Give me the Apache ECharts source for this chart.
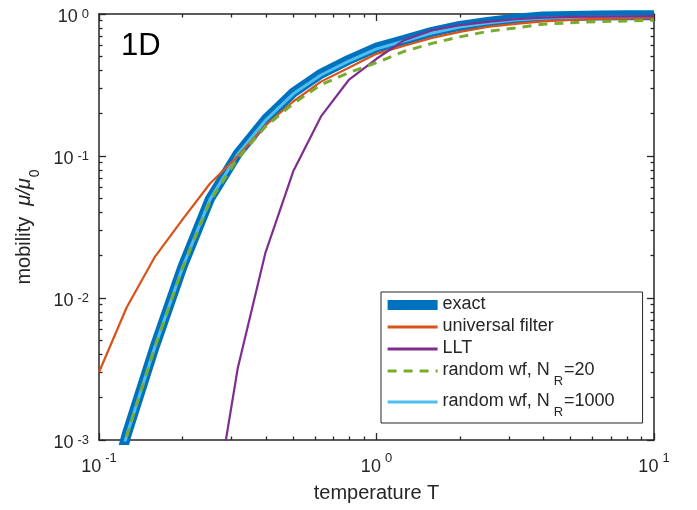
<!DOCTYPE html>
<html>
<head>
<meta charset="utf-8">
<script src="https://cdn.jsdelivr.net/npm/echarts@6/dist/echarts.min.js"></script>
<style>
html,body{margin:0;padding:0;background:#fff;}
#chart{width:697px;height:510px;}
</style>
</head>
<body>
<div id="chart"></div>
<script>
// temperatures (10 points per decade)
const temperature = [0.1, 0.1259, 0.1585, 0.1995, 0.2512, 0.3162, 0.3981, 0.5012, 0.6310, 0.7943, 1.0, 1.2589, 1.5849, 1.9953, 2.5119, 3.1623, 3.9811, 5.0119, 6.3096, 7.9433, 10.0];
// series values (mobility mu/mu0)
const exact = [2.0e-4, 1.1e-3, 4.5e-3, 0.0164, 0.050, 0.104, 0.181, 0.279, 0.38, 0.476, 0.58, 0.657, 0.748, 0.824, 0.879, 0.927, 0.96, 0.97, 0.975, 0.978, 0.98];
const universalFilter = [3.0e-3, 8.6e-3, 0.0193, 0.0355, 0.064, 0.0995, 0.164, 0.242, 0.334, 0.418, 0.524, 0.597, 0.679, 0.748, 0.811, 0.851, 0.886, 0.908, 0.923, 0.930, 0.937];
const llt = [null, null, null, null, 2.1e-4, 3.2e-3, 0.0209, 0.078, 0.19, 0.343, 0.484, 0.654, 0.768, 0.833, 0.879, 0.918, 0.942, 0.953, 0.958, 0.962, 0.965];
const randomWf20 = [1.8e-4, 1.07e-3, 4.4e-3, 0.016, 0.048, 0.0964, 0.161, 0.234, 0.318, 0.386, 0.454, 0.546, 0.621, 0.690, 0.754, 0.798, 0.847, 0.868, 0.885, 0.893, 0.904];
const randomWf1000 = [2.0e-4, 1.08e-3, 4.45e-3, 0.0162, 0.0495, 0.103, 0.178, 0.274, 0.372, 0.466, 0.568, 0.645, 0.735, 0.81, 0.865, 0.908, 0.935, 0.945, 0.95, 0.953, 0.955];
// tick values
const xMajorTicks = [0.1, 1, 10];
const xMinorTicks = [0.2, 0.3, 0.4, 0.5, 0.6, 0.7, 0.8, 0.9, 2, 3, 4, 5, 6, 7, 8, 9];
const yMajorTicks = [0.001, 0.01, 0.1, 1];
const yMinorTicks = [0.002, 0.003, 0.004, 0.005, 0.006, 0.007, 0.008, 0.009, 0.02, 0.03, 0.04, 0.05, 0.06, 0.07, 0.08, 0.09, 0.2, 0.3, 0.4, 0.5, 0.6, 0.7, 0.8, 0.9];

const AX = '#262626';
const FONT = '"Liberation Sans", Arial, Helvetica, sans-serif';

function pairs(vals) {
  const out = [];
  for (let i = 0; i < temperature.length; i++) {
    if (vals[i] != null) out.push([temperature[i], vals[i]]);
  }
  return out;
}
function expLabel(v) {
  const e = Math.round(Math.log10(v));
  return '{b|10}{s|' + (e < 0 ? '-' + (-e) : e) + '}';
}

const xRich = {
  b: {fontSize: 18, lineHeight: 24, color: AX, fontFamily: FONT, verticalAlign: 'bottom'},
  s: {fontSize: 13, lineHeight: 10, color: AX, fontFamily: FONT, verticalAlign: 'top', padding: [0, 0, 0, 4]}
};
const yRich = {
  b: {fontSize: 18, lineHeight: 24, color: AX, fontFamily: FONT, verticalAlign: 'bottom', padding: [8, 0, 0, 0]},
  s: {fontSize: 13, lineHeight: 14, color: AX, fontFamily: FONT, verticalAlign: 'top', padding: [6, 0, 0, 4]}
};

function xAxisDef(pos, major, withLabels) {
  return {
    type: 'log', logBase: 10, min: 0.1, max: 10, position: pos,
    gridIndex: 0,
    axisLine: {show: major, lineStyle: {color: AX, width: 1.5}},
    axisTick: {show: true, inside: true, length: major ? 7 : 3.5, customValues: major ? xMajorTicks : xMinorTicks, lineStyle: {color: AX, width: 1.3}},
    axisLabel: withLabels ? {show: true, customValues: xMajorTicks, formatter: expLabel, rich: xRich, margin: 12} : {show: false},
    splitLine: {show: false},
    minorTick: {show: false},
    name: withLabels ? 'temperature T' : '',
    nameLocation: 'middle',
    nameGap: 41,
    nameTextStyle: {fontSize: 20, color: AX, fontFamily: FONT, lineHeight: 24}
  };
}
function yAxisDef(pos, major, withLabels) {
  return {
    type: 'log', logBase: 10, min: 0.001, max: 1, position: pos,
    gridIndex: 0,
    axisLine: {show: major, lineStyle: {color: AX, width: 1.5}},
    axisTick: {show: true, inside: true, length: major ? 7 : 3.5, customValues: major ? yMajorTicks : yMinorTicks, lineStyle: {color: AX, width: 1.3}},
    axisLabel: withLabels ? {show: true, customValues: yMajorTicks, formatter: expLabel, rich: yRich, margin: 10} : {show: false},
    splitLine: {show: false},
    minorTick: {show: false},
    name: withLabels ? '{a|mobility  }{m|μ/μ}{z|0}' : '',
    nameLocation: 'middle',
    nameRotate: 90,
    nameGap: 59,
    nameTextStyle: {
      color: AX, fontFamily: FONT,
      rich: {
        a: {fontSize: 20, lineHeight: 24, color: AX, fontFamily: FONT, verticalAlign: 'top'},
        m: {fontSize: 20, lineHeight: 24, color: AX, fontFamily: FONT, fontStyle: 'italic', verticalAlign: 'top'},
        z: {fontSize: 14, lineHeight: 14, color: AX, fontFamily: FONT, verticalAlign: 'top', padding: [14, 0, 0, 1]}
      }
    }
  };
}

const chart = echarts.init(document.getElementById('chart'), null, {renderer: 'canvas'});
chart.setOption({
  animation: false,
  backgroundColor: '#ffffff',
  grid: {left: 99, top: 12, right: 43, bottom: 70, containLabel: false},
  xAxis: [
    xAxisDef('bottom', true, true),
    xAxisDef('bottom', false, false),
    xAxisDef('top', true, false),
    xAxisDef('top', false, false)
  ],
  yAxis: [
    yAxisDef('left', true, true),
    yAxisDef('left', false, false),
    yAxisDef('right', true, false),
    yAxisDef('right', false, false)
  ],
  legend: {
    orient: 'vertical',
    left: 381, top: 292,
    padding: [3, 28, 4, 5],
    itemWidth: 50, itemHeight: 10, itemGap: 4,
    backgroundColor: '#ffffff',
    borderColor: AX, borderWidth: 1, borderRadius: 0,
    itemStyle: {opacity: 0},
    textStyle: {
      color: AX, fontFamily: FONT, fontSize: 18,
      rich: {
        t: {fontSize: 18, lineHeight: 20, color: AX, fontFamily: FONT, verticalAlign: 'top'},
        r: {fontSize: 13, lineHeight: 13, color: AX, fontFamily: FONT, verticalAlign: 'top', padding: [14, 1, 0, 4]}
      }
    },
    formatter: function (name) {
      const m = name.match(/^(.*)N_R=(\d+)$/);
      if (m) return '{t|' + m[1] + 'N}{r|R}{t|=' + m[2] + '}';
      return '{t|' + name + '}';
    },
    data: [
      {name: 'exact', icon: 'rect', itemStyle: {opacity: 1, color: '#0072BD'}},
      {name: 'universal filter', lineStyle: {width: 3}},
      {name: 'LLT', lineStyle: {width: 3}},
      {name: 'random wf, N_R=20', lineStyle: {width: 3.2}},
      {name: 'random wf, N_R=1000', lineStyle: {width: 3.2}}
    ]
  },
  series: [
    {name: 'exact', type: 'line', data: pairs(exact), symbol: 'none', color: '#0072BD',
     lineStyle: {width: 10, color: '#0072BD'}, itemStyle: {color: '#0072BD'}, z: 2},
    {name: 'random wf, N_R=1000', type: 'line', data: pairs(randomWf1000), symbol: 'none', color: '#4DBEEE',
     lineStyle: {width: 3, color: '#4DBEEE'}, z: 3},
    {name: 'universal filter', type: 'line', data: pairs(universalFilter), symbol: 'none', color: '#D95319',
     lineStyle: {width: 2.2, color: '#D95319'}, z: 4},
    {name: 'LLT', type: 'line', data: pairs(llt), symbol: 'none', color: '#7E2F8E',
     lineStyle: {width: 2.2, color: '#7E2F8E'}, z: 5},
    {name: 'random wf, N_R=20', type: 'line', data: pairs(randomWf20), symbol: 'none', color: '#77AC30',
     lineStyle: {width: 3, color: '#77AC30', type: [9, 7]}, z: 6}
  ],
  graphic: [
    {type: 'text', left: 121, top: 31, z: 10,
     style: {text: '1D', fontSize: 31, fontFamily: FONT, fill: '#000000'}}
  ]
});
</script>
</body>
</html>
